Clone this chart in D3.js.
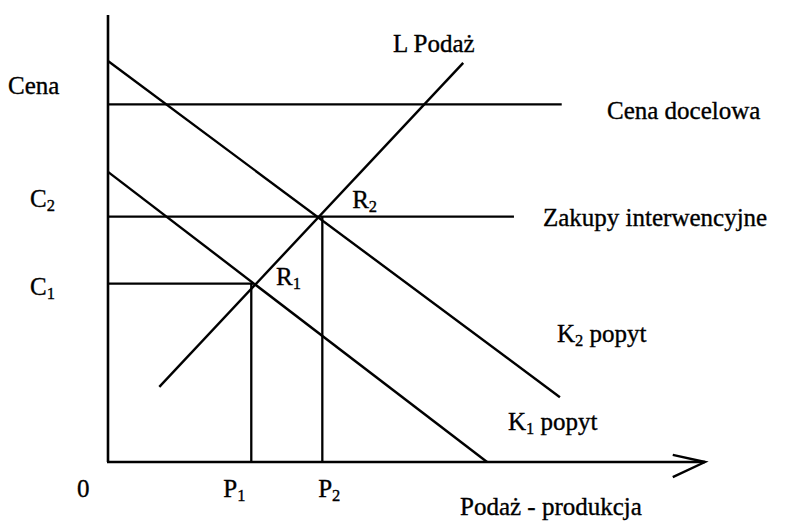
<!DOCTYPE html>
<html>
<head>
<meta charset="utf-8">
<script src="https://cdn.jsdelivr.net/npm/d3@7"></script>
<style>
  body { margin: 0; background: #fff; }
  svg { display: block; }
  text { font-family: "Liberation Serif", "Times New Roman", serif; fill: #000; stroke: #000; stroke-width: 0.35px; }
</style>
</head>
<body>
<div id="chart"></div>
<script>
// quantity / price in arbitrary diagram units (0-100)
const demandK2 = [[0, 89.7], [75.7, 14.5]];
const demandK1 = [[0, 64.9], [63.5, 0]];
const supplyL = [[8.6, 16.8], [59.5, 89.3]];
const priceLines = [
    { price: 80, end: 76 },    // Cena docelowa
    { price: 54.9, end: 68 },  // Zakupy interwencyjne (C2)
    { price: 39.9, end: 24.3 } // C1
];
const quantities = [24, 35.9];   // P1, P2
const points = [
    { name: "R", sub: "1", q: 24.3, p: 39.9 },
    { name: "R", sub: "2", q: 35.7, p: 54.9 }
];
const xTickLabels = [
    { name: "0", sub: "", q: -5.2 },
    { name: "P", sub: "1", q: 19.3 },
    { name: "P", sub: "2", q: 35.2 }
];
const yTickLabels = [
    { name: "C", sub: "2", p: 57 },
    { name: "C", sub: "1", p: 37.4 }
];

const width = 786, height = 524;
const margin = { top: 15, right: 81, bottom: 62, left: 108 };

var svg = d3.select("#chart").append("svg")
    .attr("width", width)
    .attr("height", height);

var x = d3.scaleLinear().domain([0, 100]).range([margin.left, width - margin.right]);
var y = d3.scaleLinear().domain([0, 100]).range([height - margin.bottom, margin.top]);

var line = d3.line().x(d => x(d[0])).y(d => y(d[1]));

// axes
svg.append("line")
    .attr("x1", x(0)).attr("x2", x(0))
    .attr("y1", y(100)).attr("y2", y(0))
    .attr("stroke", "#000").attr("stroke-width", 2.6);
svg.append("line")
    .attr("x1", x(0) - 1).attr("x2", x(100))
    .attr("y1", y(0)).attr("y2", y(0))
    .attr("stroke", "#000").attr("stroke-width", 2.6);
// arrow head
svg.append("path")
    .attr("d", line([[94.6, 1.6], [100, 0], [94.6, -3.4]]))
    .attr("fill", "none")
    .attr("stroke", "#000").attr("stroke-width", 2.4);

// price lines
svg.selectAll(".price")
    .data(priceLines)
    .enter().append("line")
    .attr("class", "price")
    .attr("x1", x(0)).attr("x2", d => x(d.end))
    .attr("y1", d => y(d.price)).attr("y2", d => y(d.price))
    .attr("stroke", "#000").attr("stroke-width", 2.3);

// quantity drop lines
svg.selectAll(".qty")
    .data(quantities)
    .enter().append("line")
    .attr("class", "qty")
    .attr("x1", d => x(d)).attr("x2", d => x(d))
    .attr("y1", (d, i) => y(points[i].p)).attr("y2", y(0))
    .attr("stroke", "#000").attr("stroke-width", 2.3);

// curves
for (let c of [demandK2, demandK1, supplyL]) {
    svg.append("path")
        .attr("d", line(c))
        .attr("fill", "none")
        .attr("stroke", "#000")
        .attr("stroke-width", 2.4);
}

// label helper: main text with optional subscript and trailing text
const label = (px, py, main, sub, rest, size) => {
    size = size || 25;
    var t = svg.append("text")
        .attr("x", px).attr("y", py)
        .style("font-size", size + "px");
    t.append("tspan").text(main);
    if (sub) {
        t.append("tspan").attr("dy", 4).style("font-size", (size * 0.66) + "px").text(sub);
        if (rest) t.append("tspan").attr("dy", -4).text(rest);
    } else if (rest) {
        t.append("tspan").text(rest);
    }
    return t;
};

label(8, 94, "Cena");
label(607, 119, "Cena docelowa");
label(543, 226, "Zakupy interwencyjne");
label(393, 52, "L Podaż");
label(557, 342, "K", "2", " popyt");
label(508, 430, "K", "1", " popyt");
label(460, 515, "Podaż - produkcja");

yTickLabels.forEach(d => label(30, y(d.p), d.name, d.sub));
xTickLabels.forEach(d => label(x(d.q), 497, d.name, d.sub));
points.forEach(d => label(x(d.q) + (d.sub == "1" ? 23 : 31), y(d.p) - (d.sub == "1" ? -1 : 9), d.name, d.sub));
</script>
</body>
</html>
